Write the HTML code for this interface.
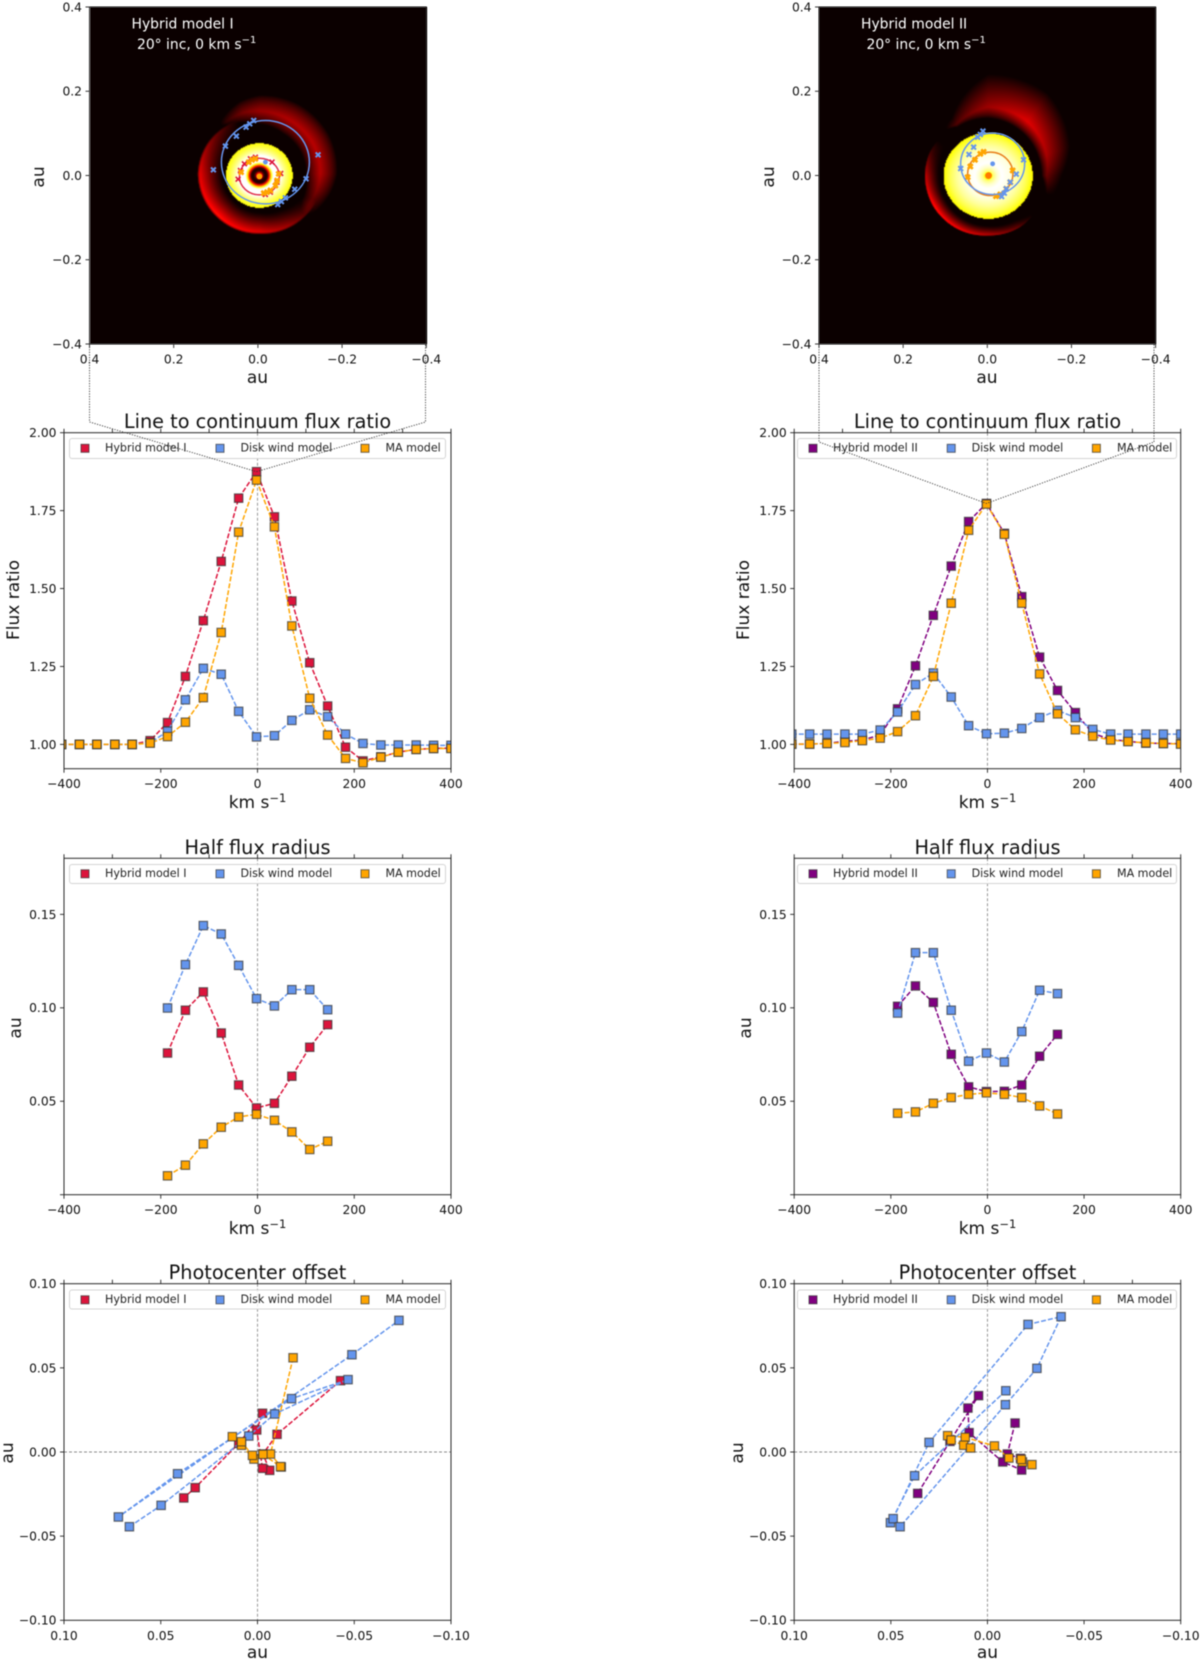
<!DOCTYPE html>
<html lang="en">
<head>
<meta charset="utf-8">
<title>Hybrid model comparison</title>
<style>
html,body{margin:0;padding:0;background:#fff;}
#figure{position:relative;width:1200px;height:1662px;overflow:hidden;background:#fff;}
#figure canvas{position:absolute;top:7px;width:337px;height:337px;filter:blur(.5px);}
#figure svg{position:absolute;left:0;top:0;filter:blur(.45px);}
text{font-family:"DejaVu Sans","Liberation Sans",sans-serif;fill:#111;}
.title{font-size:19.3px;text-anchor:middle;}
.alabel{font-size:17px;text-anchor:middle;}
.leg{font-size:11.1px;fill:#222;}
.tick{font-size:12.3px;}
.imgtext{font-size:13.9px;fill:#fff;}
.frame{fill:#fff;fill-opacity:.8;stroke:#d4d4d4;stroke-width:1;}
</style>
</head>
<body>
<div id="figure">
<canvas id="img-left" width="337" height="337" style="left:89.5px"></canvas>
<canvas id="img-right" width="337" height="337" style="left:819px"></canvas>
<svg id="plot" width="1200" height="1662" viewBox="0 0 1200 1662" xmlns="http://www.w3.org/2000/svg">
<g id="axes-layer"></g>

<g>
<text class="imgtext" x="131.5" y="28.5">Hybrid model I</text>
<text class="imgtext" x="137" y="49">20° inc, 0 km s<tspan dy="-6" font-size="10">−1</tspan></text>
<text class="imgtext" x="861" y="28.5">Hybrid model II</text>
<text class="imgtext" x="866.5" y="49">20° inc, 0 km s<tspan dy="-6" font-size="10">−1</tspan></text>
</g>

<g>
<text class="alabel" x="257.5" y="383">au</text>
<text class="alabel" x="987" y="383">au</text>
<text class="alabel" transform="translate(44,177) rotate(-90)">au</text>
<text class="alabel" transform="translate(774,177) rotate(-90)">au</text>

<text class="alabel" transform="translate(19,600) rotate(-90)">Flux ratio</text>
<text class="alabel" transform="translate(749,600) rotate(-90)">Flux ratio</text>
<text class="alabel" x="257.5" y="808">km s<tspan dy="-6" font-size="11.5">−1</tspan></text>
<text class="alabel" x="987.5" y="808">km s<tspan dy="-6" font-size="11.5">−1</tspan></text>

<text class="alabel" transform="translate(21,1028) rotate(-90)">au</text>
<text class="alabel" transform="translate(751,1028) rotate(-90)">au</text>
<text class="alabel" x="257.5" y="1234">km s<tspan dy="-6" font-size="11.5">−1</tspan></text>
<text class="alabel" x="987.5" y="1234">km s<tspan dy="-6" font-size="11.5">−1</tspan></text>

<text class="alabel" transform="translate(13,1453) rotate(-90)">au</text>
<text class="alabel" transform="translate(743,1453) rotate(-90)">au</text>
<text class="alabel" x="257.5" y="1658">au</text>
<text class="alabel" x="987.5" y="1658">au</text>
</g>

<g>
<text class="title" x="257.5" y="428">Line to continuum flux ratio</text>
<text class="title" x="987.5" y="428">Line to continuum flux ratio</text>
<text class="title" x="257.5" y="854">Half flux radius</text>
<text class="title" x="987.5" y="854">Half flux radius</text>
<text class="title" x="257.5" y="1279">Photocenter offset</text>
<text class="title" x="987.5" y="1279">Photocenter offset</text>
</g>

<g>
<rect class="frame" x="69.5" y="438.5" width="376" height="20" rx="2.5"/>
<rect x="81" y="444.3" width="8" height="8" fill="#dc143c" stroke="#333" stroke-opacity=".7"/>
<text class="leg" x="105" y="451.5">Hybrid model I</text>
<rect x="216" y="444.3" width="8" height="8" fill="#6495ed" stroke="#333" stroke-opacity=".7"/>
<text class="leg" x="240.5" y="451.5">Disk wind model</text>
<rect x="361" y="444.3" width="8" height="8" fill="#ffa500" stroke="#333" stroke-opacity=".7"/>
<text class="leg" x="385.5" y="451.5">MA model</text>
</g>
<g>
<rect class="frame" x="797.5" y="438.5" width="379" height="20" rx="2.5"/>
<rect x="809" y="444.3" width="8" height="8" fill="#800080" stroke="#333" stroke-opacity=".7"/>
<text class="leg" x="833" y="451.5">Hybrid model II</text>
<rect x="947.2" y="444.3" width="8" height="8" fill="#6495ed" stroke="#333" stroke-opacity=".7"/>
<text class="leg" x="971.6" y="451.5">Disk wind model</text>
<rect x="1092.4" y="444.3" width="8" height="8" fill="#ffa500" stroke="#333" stroke-opacity=".7"/>
<text class="leg" x="1117" y="451.5">MA model</text>
</g>

<g>
<rect class="frame" x="69.5" y="864.5" width="376" height="19" rx="2.5"/>
<rect x="81" y="869.8" width="8" height="8" fill="#dc143c" stroke="#333" stroke-opacity=".7"/>
<text class="leg" x="105" y="877">Hybrid model I</text>
<rect x="216" y="869.8" width="8" height="8" fill="#6495ed" stroke="#333" stroke-opacity=".7"/>
<text class="leg" x="240.5" y="877">Disk wind model</text>
<rect x="361" y="869.8" width="8" height="8" fill="#ffa500" stroke="#333" stroke-opacity=".7"/>
<text class="leg" x="385.5" y="877">MA model</text>
</g>
<g>
<rect class="frame" x="797.5" y="864.5" width="379" height="19" rx="2.5"/>
<rect x="809" y="869.8" width="8" height="8" fill="#800080" stroke="#333" stroke-opacity=".7"/>
<text class="leg" x="833" y="877">Hybrid model II</text>
<rect x="947.2" y="869.8" width="8" height="8" fill="#6495ed" stroke="#333" stroke-opacity=".7"/>
<text class="leg" x="971.6" y="877">Disk wind model</text>
<rect x="1092.4" y="869.8" width="8" height="8" fill="#ffa500" stroke="#333" stroke-opacity=".7"/>
<text class="leg" x="1117" y="877">MA model</text>
</g>

<g>
<rect class="frame" x="69.5" y="1290" width="376" height="19" rx="2.5"/>
<rect x="81" y="1295.8" width="8" height="8" fill="#dc143c" stroke="#333" stroke-opacity=".7"/>
<text class="leg" x="105" y="1303">Hybrid model I</text>
<rect x="216" y="1295.8" width="8" height="8" fill="#6495ed" stroke="#333" stroke-opacity=".7"/>
<text class="leg" x="240.5" y="1303">Disk wind model</text>
<rect x="361" y="1295.8" width="8" height="8" fill="#ffa500" stroke="#333" stroke-opacity=".7"/>
<text class="leg" x="385.5" y="1303">MA model</text>
</g>
<g>
<rect class="frame" x="797.5" y="1290" width="379" height="19" rx="2.5"/>
<rect x="809" y="1295.8" width="8" height="8" fill="#800080" stroke="#333" stroke-opacity=".7"/>
<text class="leg" x="833" y="1303">Hybrid model II</text>
<rect x="947.2" y="1295.8" width="8" height="8" fill="#6495ed" stroke="#333" stroke-opacity=".7"/>
<text class="leg" x="971.6" y="1303">Disk wind model</text>
<rect x="1092.4" y="1295.8" width="8" height="8" fill="#ffa500" stroke="#333" stroke-opacity=".7"/>
<text class="leg" x="1117" y="1303">MA model</text>
</g>
<g id="connector-layer"></g>
</svg>
</div>

<script>
// ---------- chart values ----------
const velocities = [-405,-368,-332,-295,-259,-222,-186,-149,-112,-75,-39,-2,35,71,108,145,182,218,255,291,328,364,400];
const velocitiesCore = [-186,-149,-112,-75,-39,-2,35,71,108,145];

const fluxHybrid1 = [1,1,1,1,1,1.012,1.07,1.218,1.397,1.587,1.79,1.875,1.73,1.46,1.262,1.123,.991,.947,.96,.975,.984,.987,.988];
const fluxWind1 = [1,1,1,1,1,1.005,1.042,1.143,1.244,1.225,1.106,1.024,1.028,1.077,1.111,1.089,1.033,1.003,.998,.998,.998,.997,.997];
const fluxMA1 = [1,1,1,1,1,1.004,1.025,1.071,1.15,1.359,1.681,1.848,1.698,1.38,1.148,1.03,.955,.941,.959,.975,.984,.987,.987];
const fluxHybrid2 = [1.001,1.001,1.003,1.01,1.014,1.03,1.114,1.252,1.414,1.572,1.715,1.773,1.677,1.474,1.28,1.173,1.102,1.035,1.016,1.01,1.004,1.003,1.002];
const fluxWind2 = [1.033,1.033,1.033,1.033,1.033,1.046,1.104,1.192,1.229,1.152,1.06,1.034,1.036,1.051,1.086,1.109,1.086,1.048,1.033,1.033,1.033,1.033,1.033];
const fluxMA2 = [1.001,1.001,1.003,1.006,1.012,1.02,1.041,1.092,1.218,1.453,1.687,1.771,1.674,1.453,1.226,1.098,1.047,1.026,1.014,1.009,1.005,1.003,1.001];

const halfHybrid1 = [.0758,.0987,.1085,.0865,.0587,.0464,.0489,.0634,.0789,.091];
const halfWind1 = [.0999,.1231,.144,.1395,.1227,.1049,.101,.1097,.1097,.099];
const halfMA1 = [.0101,.0158,.0272,.0361,.0416,.043,.0398,.0336,.0242,.0286];
const halfHybrid2 = [.1008,.1117,.1029,.0751,.0577,.0552,.0553,.0587,.0741,.0858];
const halfWind2 = [.0972,.1295,.1295,.0987,.0714,.0758,.071,.0873,.1094,.1076];
const halfMA2 = [.0436,.0443,.0489,.052,.0537,.0545,.0537,.052,.0475,.0432];

const photoHybrid1X = [-.0429,-.0101,-.0028,-.0063,-.0026,.0004,-.0026,.0097,.0322,.0381];
const photoHybrid1Y = [.0424,.0105,-.0012,-.0109,-.0097,.0131,.023,.0051,-.0212,-.0273];
const photoWind1X = [.0662,.0498,.0045,-.0089,-.0468,-.0176,.0413,.0719,-.0488,-.0731];
const photoWind1Y = [-.0444,-.0317,.0095,.0226,.043,.0317,-.0129,-.0386,.0578,.0782];
const photoMA1X = [-.0184,-.0067,-.0123,-.0119,-.0028,.0018,.0083,.013,.0083,.0026];
const photoMA1Y = [.056,-.0012,-.0089,-.0087,-.0014,-.0042,.004,.0091,.0061,-.002];
const photoHybrid2X = [-.0143,-.0103,-.0171,-.0177,-.0079,.0095,.0101,.0046,.0194,.0361];
const photoHybrid2Y = [.0172,-.0012,-.0038,-.0107,-.0059,.0115,.0261,.0335,.0063,-.0246];
const photoWind2X = [-.0095,.0377,.0502,.0488,.0302,-.021,-.0381,-.0256,-.0093,.0452];
const photoWind2Y = [.0364,-.0141,-.042,-.0396,.0057,.0758,.0804,.0497,.0281,-.0444];
const photoMA2X = [-.023,-.0181,-.0175,-.0111,-.0036,.0115,.0206,.0188,.0123,.0087];
const photoMA2Y = [-.0075,-.0059,-.0044,-.0036,.0036,.0087,.0097,.0071,.004,.0024];

// tick values and labels
const velTicks = [-400,-200,0,200,400];
const velTickLabels = ['−400','−200','0','200','400'];
const velMinorTop = [-400,-300,-200,-100,0,100,200,300,400];
const fluxTicks = [1,1.25,1.5,1.75,2];
const fluxTickLabels = ['1.00','1.25','1.50','1.75','2.00'];
const halfTicks = [0,.05,.1,.15];
const halfTickLabels = ['','0.05','0.10','0.15'];
const photoTicks = [.1,.05,0,-.05,-.1];
const photoTickLabels = ['0.10','0.05','0.00','−0.05','−0.10'];
const photoMinorTop = [.1,.075,.05,.025,0,-.025,-.05,-.075,-.1];
const imgTicks = [.4,.2,0,-.2,-.4];
const imgTickLabels = ['0.4','0.2','0.0','−0.2','−0.4'];

// image overlay marks (au)
const ringWindX1 = [.0099,.0194,.0281,.0511,.0772,.1057,-.1429,-.1144,-.0875,-.0653,-.0558,-.0471];
const ringWindY1 = [.1306,.1227,.1148,.0934,.0697,.0135,.0491,-.0079,-.0325,-.053,-.0618,-.0689];
const ringHybridX1 = [-.0542,.0471,.0416,.0321,.0178,.0059,-.0455,-.0297,-.0178,-.0336];
const ringHybridY1 = [.0048,-.0087,.0119,.0277,.0396,.0435,-.0158,-.0396,-.0451,.0317];
const ringMAX1 = [.0218,.0139,.0059,-.0139,-.0218,-.0297,-.0416,-.0455,-.0495,.04];
const ringMAY1 = [.0317,.0372,.0396,-.042,-.0396,-.0356,-.0238,-.0119,.004,.0079];
const ringWindX2 = [.0103,.0166,.023,.0325,.0435,.0633,-.0863,-.0689,-.0546,-.0451,-.0404,-.034];
const ringWindY2 = [.1053,.0974,.0911,.0673,.0499,.0166,.0372,.0032,-.0158,-.0317,-.042,-.0499];
const ringMAX2 = [.0467,.0404,.0293,.0166,.0087,-.0602,-.0546,-.0451,-.0309,-.0206];
const ringMAY2 = [-.004,.0214,.0372,.0515,.0562,.0119,-.0158,-.0317,-.0451,-.0491];

// intensity map tables: [angle deg, inner radius, outer radius, amplitude]
const crescentLeftLow = [[25,150,190,0],[35,140,190,.08],[60,125,186,.22],[90,115,181,.33],[135,110,183,.4],[180,110,186,.33],[210,115,182,.2],[240,130,175,.05],[248,140,170,0]];
const crescentLeftHigh = [[232,180,195,0],[238,172,202,.06],[255,160,225,.16],[270,150,236,.21],[300,140,240,.25],[330,140,240,.26],[360,140,234,.25],[375,145,222,.18],[392,150,205,.09],[402,165,190,0]];
const crescentRightLow = [[42,170,180,0],[60,155,183,.14],[90,150,181,.27],[120,148,186,.36],[150,146,190,.4],[180,146,191,.27],[200,148,190,.1],[215,150,185,0]];
const crescentRightHigh = [[228,185,195,0],[238,172,205,.1],[270,172,305,.22],[306,165,305,.32],[340,160,262,.24],[360,160,222,.14],[378,180,205,0]];
const diskProfileLeft = [[0,.55],[.08,.4],[.12,.12],[.18,.02],[.24,.05],[.3,.4],[.36,.75],[.42,1],[.62,1],[.7,.93],[.8,.86],[.9,.8],[1,.75]];
const diskProfileRight = [[0,.5],[.05,.62],[.1,.85],[.2,.95],[.3,1],[.5,.97],[.7,.9],[.85,.83],[.95,.77],[1,.73]];

// ---------- helpers ----------
const NS = 'http://www.w3.org/2000/svg';
function mk(tag, attrs, parent){
  const n = document.createElementNS(NS, tag);
  for (const k in attrs) n.setAttribute(k, attrs[k]);
  parent.appendChild(n);
  return n;
}
const axesLayer = document.getElementById('axes-layer');
const connectorLayer = document.getElementById('connector-layer');
const COLORS = {crimson:'#dc143c', purple:'#800080', wind:'#6495ed', ma:'#ffa500'};
let clipCount = 0;

function linear(d0, d1, r0, r1){ return v => r0 + (v - d0) / (d1 - d0) * (r1 - r0); }

function drawTicks(g, sx, sy, cfg){
  cfg.xTicks.forEach((t, i) => {
    const tick = mk('line', {x1:sx(t), x2:sx(t), y1:cfg.y1, y2:cfg.y1 + 4, stroke:'#222', 'stroke-width':.9}, g);
    
    
    const lab = mk('text', {x:sx(t), y:cfg.y1 + 19.5, class:'tick', 'text-anchor':'middle'}, g);
    lab.textContent = cfg.xLabels[i];
    
    
  });
  cfg.yTicks.forEach((t, i) => {
    const tick = mk('line', {x1:cfg.x0 - 4, x2:cfg.x0, y1:sy(t), y2:sy(t), stroke:'#222', 'stroke-width':.9}, g);
    
    
    const lab = mk('text', {x:cfg.x0 - 7.5, y:sy(t) + 4.4, class:'tick', 'text-anchor':'end'}, g);
    lab.textContent = cfg.yLabels[i];
    
    
  });
  (cfg.topTicks || []).forEach(t => {
    const tick = mk('line', {x1:sx(t), x2:sx(t), y1:cfg.y0 - 4, y2:cfg.y0, stroke:'#222', 'stroke-width':.9}, g);
    
    
  });
}

function drawFrame(g, cfg){
  const frame = mk('rect', {x:cfg.x0, y:cfg.y0, width:cfg.x1 - cfg.x0, height:cfg.y1 - cfg.y0, fill:'none', stroke:'#2a2a2a', 'stroke-width':1}, g);
  
  
}

function drawPanel(cfg){
  const g = mk('g', {}, axesLayer);
  
  
  const sx = linear(cfg.xDomain[0], cfg.xDomain[1], cfg.x0, cfg.x1);
  const sy = linear(cfg.yDomain[0], cfg.yDomain[1], cfg.y1, cfg.y0);
  const clipId = 'clip' + (++clipCount);
  const cp = mk('clipPath', {id:clipId}, g);
  mk('rect', {x:cfg.x0, y:cfg.y0, width:cfg.x1 - cfg.x0, height:cfg.y1 - cfg.y0}, cp);

  if (cfg.vzero){
    const zl = mk('line', {x1:sx(0), x2:sx(0), y1:cfg.y0, y2:cfg.y1, stroke:'#8a8a8a', 'stroke-width':.9, 'stroke-dasharray':'3,2'}, g);
    
    
  }
  if (cfg.hzero){
    const zl = mk('line', {x1:cfg.x0, x2:cfg.x1, y1:sy(0), y2:sy(0), stroke:'#8a8a8a', 'stroke-width':.9, 'stroke-dasharray':'3,2'}, g);
    
    
  }
  const plot = mk('g', {'clip-path':'url(#' + clipId + ')'}, g);
  cfg.series.forEach(s => {
    const d = s.y.map((v, i) => (i ? 'L' : 'M') + sx(s.x[i]).toFixed(2) + ' ' + sy(v).toFixed(2)).join('');
    const line = mk('path', {d:d, fill:'none', stroke:s.color, 'stroke-width':1.5, 'stroke-dasharray':'5,2'}, plot);
    
    
    s.y.forEach((v, i) => {
      const m = mk('rect', {x:sx(s.x[i]) - 4.2, y:sy(v) - 4.2, width:8.4, height:8.4, fill:s.color, stroke:'#333', 'stroke-opacity':.7, 'stroke-width':1.2}, plot);
      
      
    });
  });
  drawFrame(g, cfg);
  drawTicks(g, sx, sy, cfg);
  return {sx, sy};
}

// ---------- line panels ----------
const LEFT = {x0:64, x1:451};
const RIGHT = {x0:794.2, x1:1180.7};
const FLUX_ROW = {y0:432.7, y1:768.7};
const HALF_ROW = {y0:858.3, y1:1194.7};
const PHOTO_ROW = {y0:1283.7, y1:1620.3};

function velCfg(name, col, row, yDomain, yTicks, yLabels, series){
  return Object.assign({name, xDomain:[-400,400], yDomain, xTicks:velTicks, xLabels:velTickLabels, yTicks, yLabels, topTicks:velMinorTop, vzero:true, series}, col, row);
}
const fluxL = drawPanel(velCfg('flux-ratio-left', LEFT, FLUX_ROW, [.922,2], fluxTicks, fluxTickLabels, [
  {name:'hybrid-model-1', x:velocities, y:fluxHybrid1, color:COLORS.crimson},
  {name:'disk-wind', x:velocities, y:fluxWind1, color:COLORS.wind},
  {name:'ma-model', x:velocities, y:fluxMA1, color:COLORS.ma}]));
const fluxR = drawPanel(velCfg('flux-ratio-right', RIGHT, FLUX_ROW, [.922,2], fluxTicks, fluxTickLabels, [
  {name:'hybrid-model-2', x:velocities, y:fluxHybrid2, color:COLORS.purple},
  {name:'disk-wind', x:velocities, y:fluxWind2, color:COLORS.wind},
  {name:'ma-model', x:velocities, y:fluxMA2, color:COLORS.ma}]));
drawPanel(velCfg('half-flux-left', LEFT, HALF_ROW, [0,.18], halfTicks, halfTickLabels, [
  {name:'hybrid-model-1', x:velocitiesCore, y:halfHybrid1, color:COLORS.crimson},
  {name:'disk-wind', x:velocitiesCore, y:halfWind1, color:COLORS.wind},
  {name:'ma-model', x:velocitiesCore, y:halfMA1, color:COLORS.ma}]));
drawPanel(velCfg('half-flux-right', RIGHT, HALF_ROW, [0,.18], halfTicks, halfTickLabels, [
  {name:'hybrid-model-2', x:velocitiesCore, y:halfHybrid2, color:COLORS.purple},
  {name:'disk-wind', x:velocitiesCore, y:halfWind2, color:COLORS.wind},
  {name:'ma-model', x:velocitiesCore, y:halfMA2, color:COLORS.ma}]));

function photoCfg(name, col, series){
  return Object.assign({name, xDomain:[.1,-.1], yDomain:[-.1,.1], xTicks:photoTicks, xLabels:photoTickLabels, yTicks:photoTicks, yLabels:photoTickLabels, topTicks:photoMinorTop, vzero:true, hzero:true, series}, col, PHOTO_ROW);
}
drawPanel(photoCfg('photocenter-left', LEFT, [
  {name:'hybrid-model-1', x:photoHybrid1X, y:photoHybrid1Y, color:COLORS.crimson},
  {name:'disk-wind', x:photoWind1X, y:photoWind1Y, color:COLORS.wind},
  {name:'ma-model', x:photoMA1X, y:photoMA1Y, color:COLORS.ma}]));
drawPanel(photoCfg('photocenter-right', RIGHT, [
  {name:'hybrid-model-2', x:photoHybrid2X, y:photoHybrid2Y, color:COLORS.purple},
  {name:'disk-wind', x:photoWind2X, y:photoWind2Y, color:COLORS.wind},
  {name:'ma-model', x:photoMA2X, y:photoMA2Y, color:COLORS.ma}]));

// ---------- image panels ----------
function hot(v){
  v = Math.max(0, Math.min(1, v));
  const r = .0416 + v / .365 * .9584;
  const gg = (v - .365) / .381;
  const b = (v - .746) / .254;
  return [Math.min(1, r) * 255, Math.max(0, Math.min(1, gg)) * 255, Math.max(0, Math.min(1, b)) * 255];
}
function lerpTable(tab, x){
  if (x <= tab[0][0] || x >= tab[tab.length - 1][0]) return null;
  for (let i = 1; i < tab.length; i++){
    if (x <= tab[i][0]){
      const a = tab[i - 1], b = tab[i], t = (x - a[0]) / (b[0] - a[0]);
      return a.map((v, k) => v + (b[k] - v) * t);
    }
  }
  return null;
}
function crescent(tab, dx, dy, shape){
  let phi = Math.atan2(dy, dx) * 180 / Math.PI;
  if (phi < tab[0][0]) phi += 360;
  if (phi > tab[tab.length - 1][0]) phi -= 360;
  if (phi < tab[0][0]) phi += 360;
  const row = lerpTable(tab, phi);
  if (!row) return 0;
  const r = Math.hypot(dx, dy);
  if (r <= row[1] || r >= row[2]) return 0;
  const s = (r - row[1]) / (row[2] - row[1]);
  const f = s < shape.peak ? Math.pow(s / shape.peak, shape.rise) : Math.pow((1 - s) / (1 - shape.peak), shape.fall);
  return row[3] * f;
}
function paintImage(id, cfg){
  const cv = document.getElementById(id);
  const ctx = cv.getContext('2d');
  const im = ctx.createImageData(337, 337);
  for (let py = 0; py < 337; py++){
    for (let px = 0; px < 337; px++){
      const zx = (cfg.left + px - cfg.ox) * 3;
      const zy = (7 + py - cfg.oy) * 3;
      const ddx = (zx - cfg.disk[0]) / cfg.disk[2];
      const ddy = (zy - cfg.disk[1]) / cfg.disk[3];
      const sd = Math.hypot(ddx, ddy);
      let v = 0;
      if (sd <= 1){
        const row = lerpTable(cfg.profile, sd) || cfg.profile[cfg.profile.length - 1];
        v = row[1];
      } else {
        const dx = zx - cfg.center[0], dy = zy - cfg.center[1];
        v = crescent(cfg.low, dx, dy, cfg.lowShape) + crescent(cfg.high, dx, dy, cfg.highShape);
      }
      const c = hot(v), i = (py * 337 + px) * 4;
      im.data[i] = c[0]; im.data[i + 1] = c[1]; im.data[i + 2] = c[2]; im.data[i + 3] = 255;
    }
  }
  ctx.putImageData(im, 0, 0);
}
paintImage('img-left', {left:89.5, ox:170, oy:90, center:[265,250], disk:[265,255,100,97], profile:diskProfileLeft, low:crescentLeftLow, high:crescentLeftHigh,
  lowShape:{peak:.9, rise:1.2, fall:.6}, highShape:{peak:.45, rise:.8, fall:.8}});
paintImage('img-right', {left:819, ox:900, oy:70, center:[263,315], disk:[263,316,134,129], profile:diskProfileRight, low:crescentRightLow, high:crescentRightHigh,
  lowShape:{peak:.92, rise:1.3, fall:.6}, highShape:{peak:.25, rise:.8, fall:1}});

function xMarks(g, sx, sy, xs, ys, color, w){
  xs.forEach((x, i) => {
    const cx = sx(x), cy = sy(ys[i]);
    const m = mk('path', {d:`M${cx-2.4} ${cy-2.4}L${cx+2.4} ${cy+2.4}M${cx-2.4} ${cy+2.4}L${cx+2.4} ${cy-2.4}`, stroke:color, 'stroke-width':w, fill:'none'}, g);
    
    
  });
}
function ring(g, sx, sy, cx, cy, rx, ry, color){
  const e = mk('ellipse', {cx:sx(cx), cy:sy(cy), rx:rx * 421, ry:ry * 421, fill:'none', stroke:color, 'stroke-width':1.5}, g);
  
  
}
function dot(g, sx, sy, x, y, color, r){
  const d = mk('circle', {cx:sx(x), cy:sy(y), r:r, fill:color}, g);
  
  
}
function imagePanel(name, col, rings){
  const g = mk('g', {}, axesLayer);
  
  
  const sx = linear(.4, -.4, col.x0, col.x1);
  const sy = linear(-.4, .4, col.y1, col.y0);
  rings(g, sx, sy);
  drawFrame(g, col);
  drawTicks(g, sx, sy, Object.assign({xTicks:imgTicks, xLabels:imgTickLabels, yTicks:imgTicks, yLabels:imgTickLabels}, col));
}
imagePanel('image-panel-left', {x0:89.5, x1:426.3, y0:7, y1:344}, (g, sx, sy) => {
  ring(g, sx, sy, -.0036, -.0024, .0475, .0435, '#e0304a');
  xMarks(g, sx, sy, ringHybridX1, ringHybridY1, '#dc143c', 1.6);
  xMarks(g, sx, sy, ringMAX1, ringMAY1, '#ffa500', 2.6);
  ring(g, sx, sy, -.0178, .0317, .1045, .099, COLORS.wind);
  xMarks(g, sx, sy, ringWindX1, ringWindY1, COLORS.wind, 2);
  dot(g, sx, sy, -.0178, .0317, COLORS.wind, 2.4);
  dot(g, sx, sy, -.0036, -.0024, '#ffa500', 2.8);
});
imagePanel('image-panel-right', {x0:819, x1:1155.6, y0:7, y1:344}, (g, sx, sy) => {
  ring(g, sx, sy, -.0071, .004, .0538, .0515, '#e8801e');
  xMarks(g, sx, sy, ringMAX2, ringMAY2, '#ffa500', 2.6);
  ring(g, sx, sy, -.0127, .0277, .076, .0728, COLORS.wind);
  xMarks(g, sx, sy, ringWindX2, ringWindY2, COLORS.wind, 2);
  dot(g, sx, sy, -.0127, .0277, COLORS.wind, 2.4);
  dot(g, sx, sy, -.0032, 0, '#ff7a00', 3.2);
});

// ---------- zoom connectors from image to peak velocity ----------
function connector(name, xa, xb, yTop, yKnee, px, py){
  const c = mk('path', {d:`M${xa} ${yTop}L${xa} ${yKnee}L${px} ${py}L${xb} ${yKnee}L${xb} ${yTop}`, fill:'none', stroke:'#333', 'stroke-width':.9, 'stroke-dasharray':'1.2,1.4'}, connectorLayer);
  
  
}
connector('zoom-connector-left', 89.5, 425.5, 344, 422, fluxL.sx(velocities[11]), fluxL.sy(fluxHybrid1[11]));
connector('zoom-connector-right', 819, 1154, 344, 442, fluxR.sx(velocities[11]), fluxR.sy(fluxHybrid2[11]));
</script>
</body>
</html>
